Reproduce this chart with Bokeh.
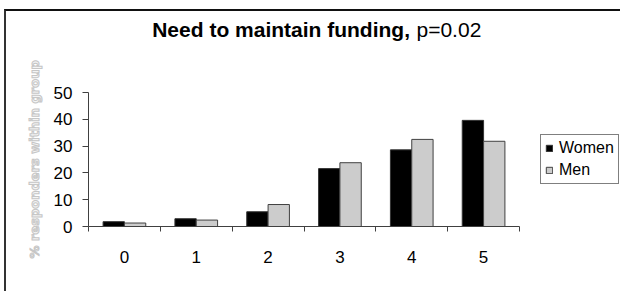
from bokeh.plotting import figure
from bokeh.models import (ColumnDataSource, Range1d, FixedTicker, LinearAxis, Label,
                          Legend, LegendItem, Title)
from bokeh.transform import dodge
from bokeh.embed import file_html
from bokeh.resources import INLINE

# ---- data ----
categories = ["0", "1", "2", "3", "4", "5"]
women = [1.8, 2.9, 5.5, 21.6, 28.6, 39.6]
men = [1.3, 2.4, 8.2, 23.8, 32.5, 31.8]
y_ticks = [0, 10, 20, 30, 40, 50]
title_bold = "Need to maintain funding,"
title_plain = "p=0.02"
y_title = "% responders within group"

FONT = "Liberation Sans"

# layout (pixels): frame from the y axis to the right/top edge of the canvas
W, H = 616, 282
LEFT, BOTTOM = 82, 67
PLOT_H_50 = 134     # pixels between 0 and 50 on the y axis
PLOT_W_6 = 431      # pixels spanned by the six categories
frame_w = W - LEFT
frame_h = H - BOTTOM
ncat = len(categories)
ymax_tick = y_ticks[-1]

pos = [i + 0.5 for i in range(ncat)]
src = ColumnDataSource(dict(cat=categories, pos=pos, women=women, men=men))

p = figure(width=W, height=H, output_backend="svg", toolbar_location=None,
           x_range=Range1d(0, ncat * frame_w / PLOT_W_6),
           y_range=Range1d(0, ymax_tick * frame_h / PLOT_H_50),
           min_border_left=LEFT, min_border_right=0, min_border_top=0,
           min_border_bottom=BOTTOM, x_axis_type=None)
p.styles = {"margin-left": "4px", "margin-top": "9px",
            "border-left": "2px solid #333333", "border-top": "2px solid #111111"}
p.outline_line_color = None
p.grid.visible = False
p.background_fill_color = "white"
p.border_fill_color = "white"

bw = 0.297
rw = p.vbar(x=dodge("pos", -0.1485, range=p.x_range), top="women", width=bw, source=src,
            fill_color="black", line_color="#333333", line_width=1)
rm = p.vbar(x=dodge("pos", 0.1485, range=p.x_range), top="men", width=bw, source=src,
            fill_color="#cccccc", line_color="#404040", line_width=1)

# x axis: ticks at category boundaries, labels at centres
xt = FixedTicker(ticks=pos, minor_ticks=list(range(ncat + 1)))
xaxis = LinearAxis(ticker=xt, bounds=(0, ncat))
xaxis.major_label_overrides = {pp: c for pp, c in zip(pos, categories)}
xaxis.major_tick_line_color = None
xaxis.minor_tick_in = 0
xaxis.minor_tick_out = 5
xaxis.minor_tick_line_color = "#404040"
xaxis.axis_line_color = "#404040"
xaxis.major_label_text_font = FONT
xaxis.major_label_text_font_size = "17px"
xaxis.major_label_text_color = "black"
xaxis.major_label_standoff = 18
p.add_layout(xaxis, "below")

ya = p.yaxis[0]
ya.ticker = FixedTicker(ticks=y_ticks)
ya.bounds = (y_ticks[0], ymax_tick)
ya.major_tick_in = 0
ya.major_tick_out = 6
ya.minor_tick_line_color = None
ya.major_tick_line_color = "#404040"
ya.axis_line_color = "#404040"
ya.major_label_text_font = FONT
ya.major_label_text_font_size = "17px"
ya.major_label_text_color = "black"
ya.major_label_standoff = 10

# faint rotated y title, placed as a side title starting below the frame bottom
p.add_layout(Title(text=y_title, align="left", offset=-32, standoff=18,
                   text_font="DejaVu Sans", text_font_style="bold",
                   text_font_size="13px", text_color="#f4f4f4",
                   text_outline_color="#c6c6c6"), "left")

# title in two parts (bold + plain), inside the frame area
p.add_layout(Label(x=63.7, y=197, x_units="screen", y_units="screen", text=title_bold,
                   text_font=FONT, text_font_style="bold", text_font_size="21px",
                   text_align="left", text_baseline="alphabetic", text_color="black"))
p.add_layout(Label(x=328, y=197, x_units="screen", y_units="screen", text=title_plain,
                   text_font=FONT, text_font_style="normal", text_font_size="21px",
                   text_align="left", text_baseline="alphabetic", text_color="black"))

legend = Legend(items=[LegendItem(label="Women", renderers=[rw]),
                       LegendItem(label="Men", renderers=[rm])],
                location=(452, 42), orientation="vertical")
legend.margin = 0
legend.padding = 4
legend.spacing = 4
legend.glyph_width = 8
legend.glyph_height = 8
legend.label_standoff = 6
legend.label_height = 18
legend.label_text_font = FONT
legend.label_text_font_size = "16px"
legend.label_text_color = "black"
legend.border_line_color = "black"
legend.border_line_width = 1
legend.background_fill_color = "white"
legend.background_fill_alpha = 1
p.add_layout(legend, "center")

open("out.html", "w").write(file_html(p, INLINE))
